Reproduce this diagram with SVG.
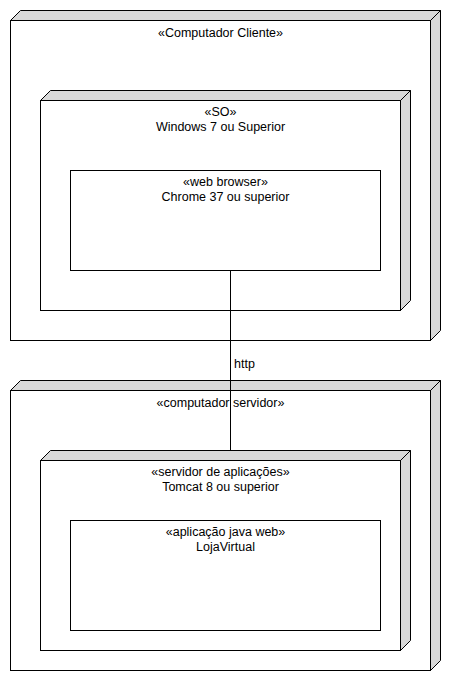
<svg xmlns="http://www.w3.org/2000/svg" width="450" height="680" viewBox="0 0 450 680">
<style>
.face{fill:#ffffff;stroke:#000000;stroke-width:1}
.side{fill:#d9d9d9;stroke:#000000;stroke-width:1;stroke-linejoin:miter}
.lbl{font-family:"Liberation Sans",Arial,sans-serif;font-size:12.5px;fill:#000000;text-anchor:middle}
.elbl{font-family:"Liberation Sans",Arial,sans-serif;font-size:12.5px;fill:#000000}
.conn{stroke:#000000;stroke-width:1;fill:none}
</style>
<rect width="450" height="680" fill="#ffffff"/>
<g id="computador-cliente">
<polygon class="side" points="10.5,20.5 20.5,10.5 440.5,10.5 430.5,20.5"/>
<polygon class="side" points="430.5,20.5 440.5,10.5 440.5,330.5 430.5,340.5"/>
<rect class="face" x="10.5" y="20.5" width="420" height="320"/>
<text class="lbl" x="220.5" y="37">«Computador Cliente»</text>
</g>
<g id="so-windows">
<polygon class="side" points="40.5,100.5 50.5,90.5 410.5,90.5 400.5,100.5"/>
<polygon class="side" points="400.5,100.5 410.5,90.5 410.5,300.5 400.5,310.5"/>
<rect class="face" x="40.5" y="100.5" width="360" height="210"/>
<text class="lbl" x="220.5" y="116">«SO»</text>
<text class="lbl" x="220.5" y="131">Windows 7 ou Superior</text>
</g>
<g id="web-browser">
<rect class="face" x="70.5" y="170.5" width="310" height="100"/>
<text class="lbl" x="225.5" y="186">«web browser»</text>
<text class="lbl" x="225.5" y="201">Chrome 37 ou superior</text>
</g>
<g id="computador-servidor">
<polygon class="side" points="10.5,390.5 20.5,380.5 440.5,380.5 430.5,390.5"/>
<polygon class="side" points="430.5,390.5 440.5,380.5 440.5,660.5 430.5,670.5"/>
<rect class="face" x="10.5" y="390.5" width="420" height="280"/>
<text class="lbl" x="220.5" y="407">«computador servidor»</text>
</g>
<g id="servidor-aplicacoes">
<polygon class="side" points="40.5,460.5 50.5,450.5 410.5,450.5 400.5,460.5"/>
<polygon class="side" points="400.5,460.5 410.5,450.5 410.5,640.5 400.5,650.5"/>
<rect class="face" x="40.5" y="460.5" width="360" height="190"/>
<text class="lbl" x="220.5" y="476">«servidor de aplicações»</text>
<text class="lbl" x="220.5" y="491">Tomcat 8 ou superior</text>
</g>
<g id="aplicacao-java-web">
<rect class="face" x="70.5" y="520.5" width="310" height="110"/>
<text class="lbl" x="225.5" y="536">«aplicação java web»</text>
<text class="lbl" x="225.5" y="551">LojaVirtual</text>
</g>
<g id="connectors">
<line class="conn" x1="230.5" y1="270.5" x2="230.5" y2="450.5"/>
<text class="elbl" x="234" y="368">http</text>
</g>
</svg>
